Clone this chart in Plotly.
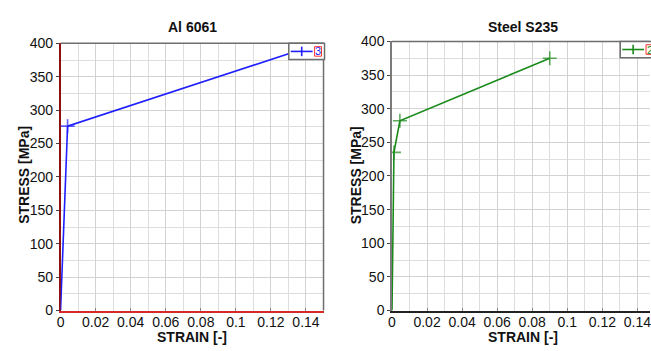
import plotly.graph_objects as go

W, H = 651, 351

# ---- data ----
al_strain = [0.0, 0.004, 0.14]
al_stress = [0.0, 276.0, 393.0]
al_marker = [0, 10, 10]

st_strain = [0.0, 0.00112, 0.0045, 0.09]
st_stress = [0.0, 235.0, 282.0, 375.0]
st_marker = [0, 10, 10, 10]

titles = ["Al 6061", "Steel S235"]
legend_labels = ["3", "2"]
x_tick_vals = [0, 0.02, 0.04, 0.06, 0.08, 0.1, 0.12, 0.14]
x_tick_text = ["0", "0.02", "0.04", "0.06", "0.08", "0.1", "0.12", "0.14"]
y_tick_vals = [0, 50, 100, 150, 200, 250, 300, 350, 400]

FONT = "Arial, Liberation Sans, sans-serif"
BLUE = "#1f1fff"
GREEN = "#1a8a1a"

def px(x):
    return x / W

def py(y):
    return 1 - y / H

fig = go.Figure()
fig.add_trace(go.Scatter(x=al_strain, y=al_stress, mode="lines+markers",
                         line=dict(color=BLUE, width=1.6),
                         marker=dict(symbol="cross-thin", size=al_marker,
                                     line=dict(color=BLUE, width=1.6)),
                         xaxis="x", yaxis="y", showlegend=False))
fig.add_trace(go.Scatter(x=st_strain, y=st_stress, mode="lines+markers",
                         line=dict(color=GREEN, width=1.6),
                         marker=dict(symbol="cross-thin", size=st_marker,
                                     line=dict(color=GREEN, width=1.6)),
                         xaxis="x2", yaxis="y2", showlegend=False))

# plot geometry (pixels)
L1, R1, T1, B1 = 57, 322, 37, 317
L2, R2, T2, B2 = 391, 651, 35, 317
xspan = 0.15 / (R1 - L1)

tickfont = dict(family=FONT, size=14, color="#111")

def xaxis_cfg(l, r, xmax, lc, anchor):
    return dict(domain=[px(l), px(r)], range=[0, xmax], anchor=anchor,
                tickvals=x_tick_vals, ticktext=x_tick_text,
                ticks="inside", ticklen=3, tickcolor="#888",
                showline=True, linecolor=lc, linewidth=1.5,
                zeroline=False, tickfont=tickfont, layer="below traces",
                ticklabeloverflow="allow", ticklabelstandoff=-2,
                showgrid=True, gridcolor="#d2d2d2", gridwidth=1,
                minor=dict(showgrid=True, gridcolor="#dedede", dtick=0.01, tick0=0))

def yaxis_cfg(t, b, lc, anchor):
    return dict(domain=[py(b), py(t)], range=[0, 400], anchor=anchor,
                tickvals=y_tick_vals, ticks="outside", ticklen=3, tickcolor="#444",
                showline=True, linecolor=lc, linewidth=1.5,
                zeroline=False, tickfont=tickfont, layer="below traces",
                ticklabeloverflow="allow",
                showgrid=True, gridcolor="#d2d2d2", gridwidth=1,
                minor=dict(showgrid=True, gridcolor="#dedede", dtick=25, tick0=0))

fig.update_layout(
    width=W, height=H, margin=dict(l=0, r=0, t=0, b=0),
    paper_bgcolor="white", plot_bgcolor="white", showlegend=False,
    xaxis=xaxis_cfg(L1, R1, 0.15, "#d42a2a", "y"),
    yaxis=yaxis_cfg(T1, B1, "#8f1010", "x"),
    xaxis2=xaxis_cfg(L2, R2, (R2 - L2) * xspan, "#222222", "y2"),
    yaxis2=yaxis_cfg(T2, B2, "#7a7a7a", "x2"),
    font=dict(family=FONT),
)

shapes = []
# top / right borders
shapes.append(dict(type="line", xref="paper", yref="paper", x0=px(L1), x1=px(R1),
                   y0=py(T1), y1=py(T1), line=dict(color="#6e6e6e", width=1.5)))
shapes.append(dict(type="line", xref="paper", yref="paper", x0=px(R1), x1=px(R1),
                   y0=py(T1), y1=py(B1), line=dict(color="#6e6e6e", width=1.5)))
shapes.append(dict(type="line", xref="paper", yref="paper", x0=px(L2), x1=px(R2),
                   y0=py(T2), y1=py(T2), line=dict(color="#6e6e6e", width=1.5)))

annotations = []
# legends (drawn as decoration)
legends = [
    dict(x0=287, x1=323, y0=T1, y1=54, color=BLUE, lab=legend_labels[0]),
    dict(x0=621, x1=660, y0=T2, y1=52, color=GREEN, lab=legend_labels[1]),
]
for lg in legends:
    shapes.append(dict(type="rect", xref="paper", yref="paper",
                       x0=px(lg["x0"]), x1=px(lg["x1"]), y0=py(lg["y1"]), y1=py(lg["y0"]),
                       fillcolor="white", line=dict(color="#6e6e6e", width=1.5), layer="above"))
    cy = (lg["y0"] + lg["y1"]) / 2
    shapes.append(dict(type="line", xref="paper", yref="paper",
                       x0=px(lg["x0"] + 2), x1=px(lg["x0"] + 24), y0=py(cy), y1=py(cy),
                       line=dict(color=lg["color"], width=1.6), layer="above"))
    shapes.append(dict(type="line", xref="paper", yref="paper",
                       x0=px(lg["x0"] + 13), x1=px(lg["x0"] + 13), y0=py(cy - 5), y1=py(cy + 5),
                       line=dict(color=lg["color"], width=1.6), layer="above"))
    shapes.append(dict(type="rect", xref="paper", yref="paper",
                       x0=px(lg["x0"] + 26), x1=px(lg["x0"] + 33), y0=py(cy + 5), y1=py(cy - 5),
                       fillcolor="white", line=dict(color="#ff3030", width=1), layer="above"))
    annotations.append(dict(text=lg["lab"], xref="paper", yref="paper",
                            x=px(lg["x0"] + 29.5), y=py(cy), xanchor="center", yanchor="middle",
                            showarrow=False, font=dict(family=FONT, size=11, color=lg["color"])))

# titles and axis titles
for cx, tt, yl in [((L1 + R1) / 2, titles[0], 20), ((L2 + 656) / 2, titles[1], 355)]:
    annotations.append(dict(text="<b>" + tt + "</b>", xref="paper", yref="paper",
                            x=px(cx), y=py(20), xanchor="center", yanchor="middle",
                            showarrow=False, font=dict(family=FONT, size=14, color="#111")))
    annotations.append(dict(text="<b>STRAIN [-]</b>", xref="paper", yref="paper",
                            x=px(cx), y=py(344.5), xanchor="center", yanchor="middle",
                            showarrow=False, font=dict(family=FONT, size=14, color="#111")))
    annotations.append(dict(text="<b>STRESS [MPa]</b>", xref="paper", yref="paper",
                            x=px(yl), y=py(175), xanchor="center", yanchor="middle",
                            textangle=-90,
                            showarrow=False, font=dict(family=FONT, size=14, color="#111")))

fig.update_layout(shapes=shapes, annotations=annotations)
fig.write_html("out.html")
